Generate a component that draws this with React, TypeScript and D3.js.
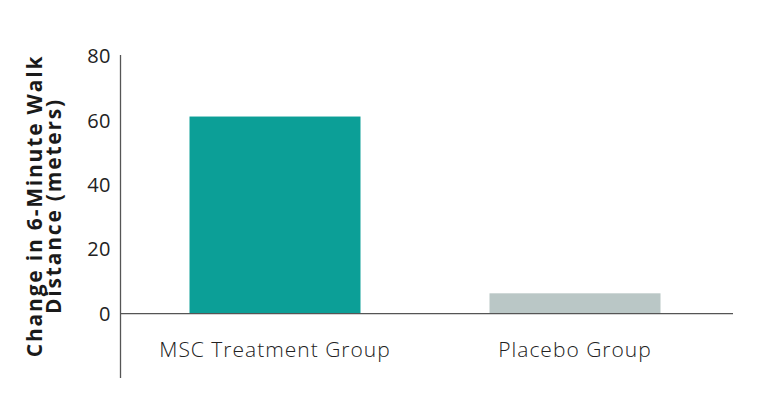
import React, { useEffect, useRef } from 'react'
import * as d3 from 'd3'

const categories = ['MSC Treatment Group', 'Placebo Group']
const changeValues = [61.2, 6.3]
const barColors = ['#0c9f97', '#bac7c6']
const tickValues = [0, 20, 40, 60, 80]
const titleLines = ['Change in 6-Minute Walk', 'Distance (meters)']

const App: React.FC = () => {
  const svgRef = useRef<SVGSVGElement | null>(null)

  useEffect(() => {
    if (!svgRef.current) return

    const svg = d3.select(svgRef.current)
    svg.selectAll('*').remove()
    const width = 766
    const height = 401
    const font = "'Open Sans', 'Noto Sans', sans-serif"

    svg
      .attr('width', width)
      .attr('height', height)
      .attr('viewBox', [0, 0, width, height])
      .style('background', '#fff')

    const y = d3.scaleLinear().domain([-20, 80]).range([378, 56])

    const x = d3
      .scaleBand()
      .domain(categories)
      .range([125, 725])
      .paddingInner(0.43)
      .paddingOuter(0.215)

    const data = categories.map((c, i) => ({ name: c, value: changeValues[i] }))

    svg
      .append('g')
      .selectAll('rect')
      .data(data)
      .join('rect')
      .attr('x', d => x(d.name)!)
      .attr('y', d => y(d.value))
      .attr('width', x.bandwidth())
      .attr('height', d => y(0) - y(d.value))
      .attr('fill', (d, i) => barColors[i])

    // axis lines, y runs down past zero to -20 without a label
    svg
      .append('line')
      .attr('x1', 120.5)
      .attr('x2', 120.5)
      .attr('y1', y(80) - 1)
      .attr('y2', y(-20))
      .attr('stroke', '#555')
      .attr('stroke-width', 1.3)

    svg
      .append('line')
      .attr('x1', 120)
      .attr('x2', 733)
      .attr('y1', y(0))
      .attr('y2', y(0))
      .attr('stroke', '#555')
      .attr('stroke-width', 1.3)

    svg
      .append('g')
      .attr('text-anchor', 'end')
      .selectAll('text')
      .data(tickValues)
      .join('text')
      .attr('x', 111)
      .attr('y', d => y(d))
      .attr('dy', '0.36em')
      .attr('fill', '#222')
      .style('font', `20px ${font}`)
      .style('letter-spacing', '0.5px')
      .text(d => d)

    svg
      .append('g')
      .attr('text-anchor', 'middle')
      .selectAll('text')
      .data(categories)
      .join('text')
      .attr('x', d => x(d)! + x.bandwidth() / 2)
      .attr('y', 357)
      .attr('fill', '#222')
      .style('font', `300 21px ${font}`)
      .style('letter-spacing', '1px')
      .text(d => d)

    svg
      .append('text')
      .attr('transform', 'translate(0,206) rotate(-90)')
      .attr('text-anchor', 'middle')
      .attr('fill', '#1a1a1a')
      .style('font', `bold 21px ${font}`)
      .style('letter-spacing', '1.8px')
      .selectAll('tspan')
      .data(titleLines)
      .join('tspan')
      .attr('x', 0)
      .attr('y', (d, i) => 42 + i * 19)
      .text(d => d)
  }, [])

  return (
    <svg
      ref={svgRef}
      style={{ position: 'absolute', left: 0, top: 0 }}
    ></svg>
  )
}

export default App
